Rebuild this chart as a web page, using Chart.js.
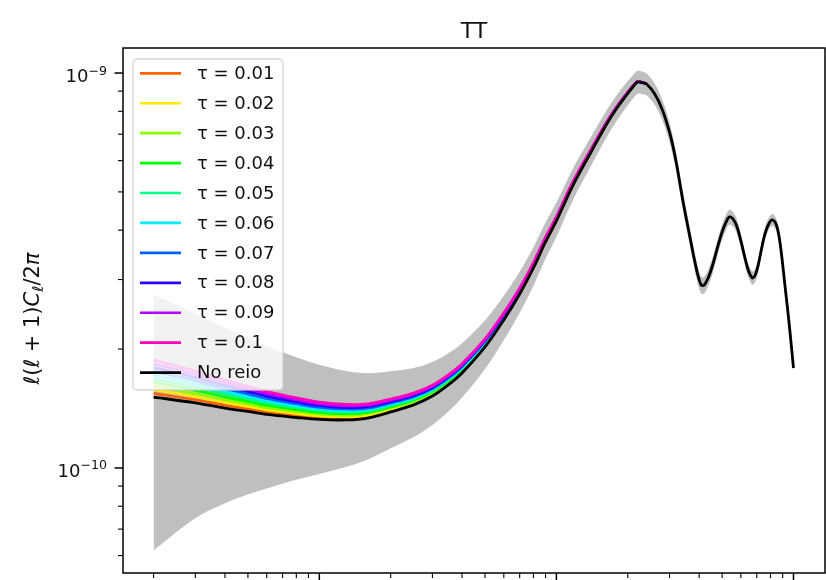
<!DOCTYPE html>
<html><head><meta charset="utf-8">
<script src="https://cdn.jsdelivr.net/npm/chart.js@4.4.1/dist/chart.umd.min.js"></script>
<style>html,body{margin:0;padding:0;background:#fff;}#wrap{width:826px;height:580px;}</style>
</head><body><div id="wrap"><canvas id="c" width="826" height="580"></canvas></div>
<script>
// values are given in units of 1e-10
const UNIT = 1e-10;
const ell = [2,3,4,5,6,8,10,13,16,20,25,30,35,40,50,60,70,80,90,100,117,140,163,180,200,210,220,230,240,260,280,300,310,320,330,340,350,370,380,395,408,420,440,460,480,500,520,537,560,580,600,620,640,660,673,690,710,730,760,790,818,850,880,920,960,1000];
const noReio = [1.512,1.461,1.418,1.390,1.366,1.342,1.327,1.323,1.338,1.386,
 1.444,1.521,1.623,1.740,2.025,2.370,2.757,3.209,3.734,4.221,
 5.174,6.310,7.429,8.155,8.881,9.217,9.490,9.450,9.379,8.847,
 8.058,7.088,6.532,5.953,5.359,4.827,4.395,3.712,3.420,3.080,
 2.906,2.906,3.063,3.323,3.648,3.958,4.196,4.320,4.245,4.052,
 3.756,3.461,3.208,3.063,3.027,3.080,3.265,3.543,3.935,4.171,
 4.245,4.099,3.669,2.906,2.301,1.791];
const bandUpper = [2.749,2.460,2.265,2.134,2.033,1.908,1.826,1.761,1.738,1.757,
 1.790,1.854,1.951,2.068,2.365,2.730,3.139,3.621,4.183,4.698,
 5.707,6.894,8.053,8.799,9.539,9.873,10.14,10.08,9.988,9.395,
 8.539,7.497,6.902,6.285,5.654,5.089,4.630,3.905,3.595,3.235,
 3.050,3.048,3.209,3.478,3.814,4.135,4.380,4.506,4.424,4.220,
 3.909,3.600,3.335,3.182,3.144,3.197,3.387,3.674,4.078,4.319,
 4.394,4.240,3.793,3.002,2.375,1.848];
const bandLower = [0.6189,0.7462,0.8135,0.8581,0.8877,0.9336,0.9649,1.007,1.051,1.121,
 1.198,1.285,1.390,1.507,1.781,2.108,2.471,2.895,3.387,3.845,
 4.742,5.821,6.885,7.580,8.281,8.601,8.864,8.838,8.780,8.299,
 7.577,6.679,6.162,5.621,5.064,4.565,4.160,3.519,3.245,2.925,
 2.762,2.764,2.917,3.168,3.482,3.781,4.012,4.134,4.066,3.884,
 3.603,3.322,3.081,2.944,2.910,2.963,3.143,3.412,3.792,4.023,
 4.096,3.958,3.545,2.810,2.227,1.734];

const ellTau = [2,3,4,5,6,8,10,13,16,20,25,30,35,40,50,60,70,80,90,100,117,140,163,180,200,210,220,230,240];
const tau001 = [1.545,1.488,1.441,1.411,1.384,1.357,1.340,1.335,1.349,1.396,1.454,1.531,1.632,1.749,2.034,2.379,2.767,3.219,3.744,4.231,5.184,6.319,7.437,8.162,8.887,9.221,9.492,9.452,9.380];
const tau002 = [1.579,1.516,1.465,1.431,1.403,1.373,1.354,1.347,1.360,1.407,1.464,1.540,1.642,1.759,2.044,2.389,2.776,3.228,3.754,4.241,5.194,6.329,7.445,8.169,8.893,9.225,9.495,9.454,9.381];
const tau003 = [1.613,1.545,1.489,1.453,1.422,1.389,1.368,1.359,1.372,1.418,1.474,1.550,1.651,1.768,2.054,2.399,2.786,3.238,3.764,4.251,5.204,6.338,7.453,8.176,8.899,9.229,9.498,9.456,9.382];
const tau004 = [1.648,1.574,1.514,1.474,1.441,1.405,1.382,1.372,1.383,1.428,1.484,1.560,1.661,1.778,2.063,2.409,2.796,3.248,3.775,4.262,5.215,6.348,7.461,8.182,8.904,9.233,9.501,9.458,9.383];
const tau005 = [1.684,1.603,1.539,1.496,1.461,1.421,1.396,1.384,1.394,1.439,1.494,1.570,1.671,1.787,2.073,2.419,2.805,3.258,3.785,4.272,5.225,6.358,7.469,8.189,8.910,9.237,9.504,9.460,9.384];
const tau006 = [1.721,1.633,1.565,1.518,1.480,1.437,1.410,1.397,1.406,1.450,1.505,1.580,1.680,1.797,2.083,2.429,2.815,3.268,3.795,4.282,5.235,6.367,7.477,8.196,8.916,9.241,9.507,9.462,9.386];
const tau007 = [1.759,1.664,1.590,1.540,1.500,1.454,1.424,1.410,1.417,1.461,1.515,1.589,1.690,1.807,2.093,2.439,2.825,3.278,3.805,4.292,5.245,6.377,7.485,8.203,8.922,9.245,9.510,9.464,9.387];
const tau008 = [1.797,1.695,1.617,1.563,1.520,1.471,1.439,1.422,1.429,1.472,1.526,1.599,1.700,1.817,2.103,2.449,2.835,3.287,3.816,4.302,5.255,6.387,7.494,8.210,8.927,9.249,9.513,9.466,9.388];
const tau009 = [1.836,1.727,1.643,1.586,1.541,1.488,1.453,1.435,1.441,1.483,1.536,1.610,1.710,1.826,2.113,2.459,2.844,3.297,3.826,4.312,5.265,6.397,7.502,8.217,8.933,9.253,9.517,9.468,9.389];
const tau010 = [1.876,1.759,1.671,1.610,1.562,1.505,1.468,1.449,1.453,1.495,1.547,1.620,1.720,1.836,2.123,2.469,2.854,3.307,3.836,4.323,5.275,6.406,7.510,8.224,8.939,9.257,9.520,9.470,9.390];
const tauSeries = [tau001,tau002,tau003,tau004,tau005,tau006,tau007,tau008,tau009,tau010];
const tauLabels = ['τ = 0.01','τ = 0.02','τ = 0.03','τ = 0.04','τ = 0.05','τ = 0.06','τ = 0.07','τ = 0.08','τ = 0.09','τ = 0.1'];
const noReioLabel = 'No reio';
const tauColors = ['rgb(255,96,0)','rgb(255,234,0)','rgb(138,255,0)','rgb(0,255,0)','rgb(0,255,137)','rgb(0,236,255)','rgb(0,97,255)','rgb(42,0,255)','rgb(180,0,255)','rgb(255,0,191)'];

const xTickValues = [2,3,4,5,6,7,8,9,10,20,30,40,50,60,70,80,90,100,200,300,400,500,600,700,800,900,1000];
const xMajorTicks = [10,100,1000];
const yTickValues = [6e-11,7e-11,8e-11,9e-11,1e-10,2e-10,3e-10,4e-10,5e-10,6e-10,7e-10,8e-10,9e-10,1e-9];
const yMajorTicks = [1e-10,1e-9];
const yMajorBase = ['10','10'];
const yMajorExp = ['−10','−9'];
const titleText = 'TT';
const yTitleParts = [['ℓ',1,0],['(',0,0],['ℓ',1,0],[' + 1)',0,0],['C',1,0],['ℓ',1,1],['/2',0,0],['π',1,0]];

const pts = (xs, ys) => xs.map((l,i)=>({x:l, y:ys[i]*UNIT}));
const isMajor = (arr, v) => arr.some(m => Math.abs(m - v) / m < 1e-6);

const datasets = [
  {label:'band-low', data: pts(ell, bandLower), borderWidth:0, borderColor:'rgba(0,0,0,0)', fill:false, order:40},
  {label:'band-up', data: pts(ell, bandUpper), borderWidth:0, borderColor:'rgba(0,0,0,0)', fill:'-1', backgroundColor:'#bfbfbf', order:41},
];
tauSeries.forEach((s,i)=>datasets.push({label:tauLabels[i], data: pts(ellTau, s), borderColor: tauColors[i], borderWidth:2.7, fill:false, order: 20 - i}));
datasets.push({label:noReioLabel, data: pts(ell, noReio), borderColor:'#000', borderWidth:2.8, fill:false, order:0});

const decor = {
  id:'decor',
  afterDatasetsDraw(chart){
    const {ctx, chartArea:a, scales:{x,y}} = chart;
    ctx.save();
    ctx.strokeStyle = '#000';
    xTickValues.forEach(v=>{
      const px = x.getPixelForValue(v), mj = isMajor(xMajorTicks, v);
      ctx.lineWidth = mj ? 1.5 : 1.1;
      ctx.beginPath(); ctx.moveTo(px, a.bottom); ctx.lineTo(px, a.bottom + (mj ? 8.5 : 5)); ctx.stroke();
    });
    yTickValues.forEach(v=>{
      const py = y.getPixelForValue(v), mj = isMajor(yMajorTicks, v);
      ctx.lineWidth = mj ? 1.5 : 1.1;
      ctx.beginPath(); ctx.moveTo(a.left, py); ctx.lineTo(a.left - (mj ? 8.5 : 5), py); ctx.stroke();
    });
    ctx.lineWidth = 1.5;
    ctx.strokeRect(a.left, a.top, a.right - a.left, a.bottom - a.top);
    ctx.fillStyle = '#111'; ctx.textBaseline = 'alphabetic'; ctx.textAlign = 'left';
    yMajorTicks.forEach((v,i)=>{
      const py = y.getPixelForValue(v);
      ctx.font = '18px "DejaVu Sans"';
      const wb = ctx.measureText(yMajorBase[i]).width;
      ctx.font = '12.6px "DejaVu Sans"';
      const we = ctx.measureText(yMajorExp[i]).width;
      const xr = a.left - 16;
      ctx.font = '18px "DejaVu Sans"';
      ctx.fillText(yMajorBase[i], xr - we - wb, py + 8.8);
      ctx.font = '12.6px "DejaVu Sans"';
      ctx.fillText(yMajorExp[i], xr - we, py + 1.5);
    });
    ctx.restore();
  },
  afterDraw(chart){
    const {ctx, chartArea:a} = chart;
    ctx.save();
    const bx = a.left + 10, by = a.top + 11, bw = 150, bh = 331, r = 4;
    ctx.beginPath();
    ctx.moveTo(bx + r, by); ctx.lineTo(bx + bw - r, by); ctx.arcTo(bx + bw, by, bx + bw, by + r, r);
    ctx.lineTo(bx + bw, by + bh - r); ctx.arcTo(bx + bw, by + bh, bx + bw - r, by + bh, r);
    ctx.lineTo(bx + r, by + bh); ctx.arcTo(bx, by + bh, bx, by + bh - r, r);
    ctx.lineTo(bx, by + r); ctx.arcTo(bx, by, bx + r, by, r); ctx.closePath();
    ctx.fillStyle = 'rgba(255,255,255,0.8)'; ctx.fill();
    ctx.strokeStyle = 'rgba(204,204,204,0.8)'; ctx.lineWidth = 1.3; ctx.stroke();
    const entries = tauLabels.map((t,i)=>[t, tauColors[i]]).concat([[noReioLabel, '#000']]);
    ctx.font = '18px "DejaVu Sans"'; ctx.textBaseline = 'middle'; ctx.textAlign = 'left';
    entries.forEach((e,i)=>{
      const yy = by + 14.3 + i * 29.93;
      ctx.strokeStyle = e[1]; ctx.lineWidth = 2.7;
      ctx.beginPath(); ctx.moveTo(bx + 7, yy); ctx.lineTo(bx + 48, yy); ctx.stroke();
      ctx.fillStyle = '#111'; ctx.fillText(e[0], bx + 64, yy + 1);
    });
    ctx.font = '22px "DejaVu Sans"'; ctx.textAlign = 'center'; ctx.textBaseline = 'alphabetic';
    ctx.fillStyle = '#111';
    ctx.fillText(titleText, (a.left + a.right) / 2, 38);
    ctx.translate(34, (a.top + a.bottom) / 2 + 8);
    ctx.rotate(-Math.PI / 2);
    ctx.textAlign = 'left'; ctx.textBaseline = 'middle';
    const fnt = (p) => (p[1] ? 'italic ' : '') + (p[2] ? '15px' : '21px') + ' "DejaVu Sans"';
    let W = 0;
    yTitleParts.forEach(p=>{ ctx.font = fnt(p); W += ctx.measureText(p[0]).width; });
    let cx = -W / 2;
    yTitleParts.forEach(p=>{ ctx.font = fnt(p); ctx.fillText(p[0], cx, p[2] ? 5 : 0); cx += ctx.measureText(p[0]).width; });
    ctx.restore();
  }
};

new Chart(document.getElementById('c'), {
  type:'line',
  data:{datasets},
  options:{
    responsive:false, animation:false, devicePixelRatio:1,
    layout:{padding:{top:48, right:1, bottom:7, left:0}},
    elements:{point:{radius:0}, line:{tension:0.35, borderJoinStyle:'round'}},
    plugins:{legend:{display:false}, title:{display:false}, tooltip:{enabled:false}, filler:{drawTime:'beforeDatasetsDraw'}},
    scales:{
      x:{type:'logarithmic', min:1.486, max:1358, display:false},
      y:{type:'logarithmic', min:5.42e-11, max:1.157e-9,
        afterBuildTicks:(s)=>{ s.ticks = yMajorTicks.map(v=>({value:v})); },
        afterFit:(s)=>{ s.width = 123; s.paddingTop = 0; s.paddingBottom = 0; },
        grid:{display:false, drawTicks:false}, border:{display:false},
        ticks:{display:false}
      }
    }
  },
  plugins:[decor]
});
</script></body></html>
